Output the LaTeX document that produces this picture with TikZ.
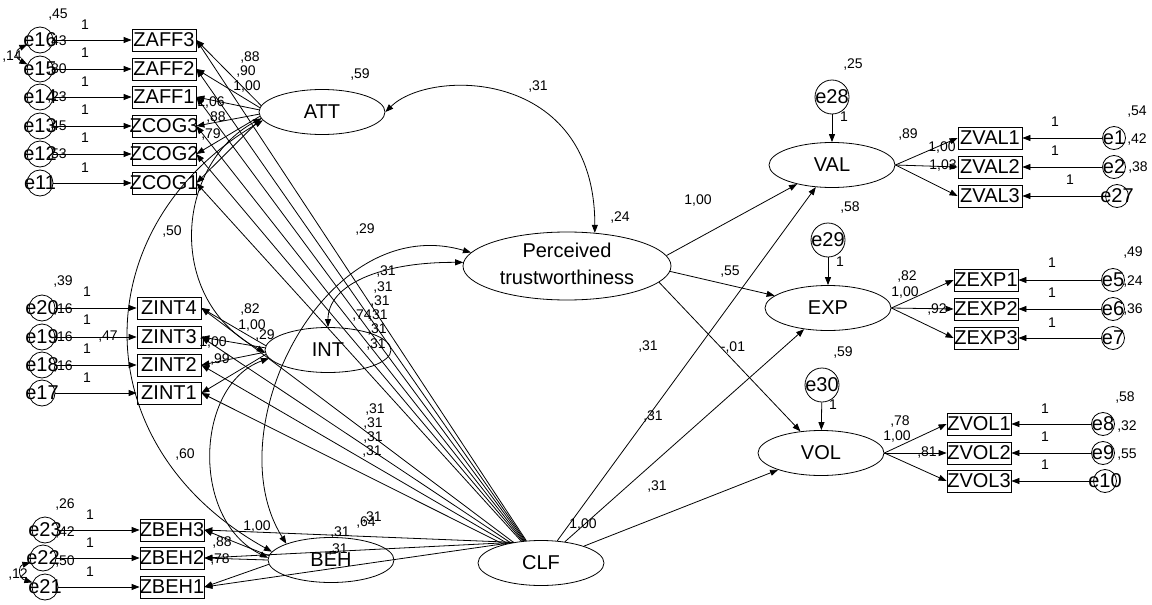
\documentclass[tikz,border=0pt]{standalone}
\usepackage{fontspec}
\setmainfont{Liberation Sans}
\usetikzlibrary{arrows.meta,shapes.geometric}
\newcommand\bigfnt{\fontsize{20}{24}\selectfont}
\newcommand\smfnt{\fontsize{14}{16}\selectfont}
\begin{document}
\begin{tikzpicture}[x=1pt,y=-1pt,line width=0.8pt,
  >={Triangle[length=8pt,width=6pt]},
  obs/.style={draw,rectangle,minimum width=64pt,minimum height=22pt,inner sep=0pt,font=\bigfnt},
  lat/.style={draw,ellipse,minimum width=126pt,minimum height=45pt,inner sep=0pt,font=\bigfnt},
  errL/.style={draw,circle,minimum size=26pt,inner sep=0pt,font=\bigfnt},
  errR/.style={errL,minimum size=23pt},
  errD/.style={errL,minimum size=34pt},
  lbl/.style={font=\smfnt,inner sep=0pt},
  reg/.style={->},
  cov/.style={<->}]
\useasboundingbox (0,0) rectangle (1152,605);

% observed indicators
\foreach \nm/\yy in {ZAFF3/40,ZAFF2/69,ZAFF1/97,ZCOG3/126,ZCOG2/154,ZCOG1/183}
  \node[obs] (\nm) at (164,\yy) {\makebox[0pt]{\nm}};
\foreach \nm/\yy in {ZINT4/308,ZINT3/337,ZINT2/365,ZINT1/393}
  \node[obs] (\nm) at (169,\yy) {\makebox[0pt]{\nm}};
\foreach \nm/\yy in {ZBEH3/530,ZBEH2/558,ZBEH1/587}
  \node[obs] (\nm) at (172,\yy) {\makebox[0pt]{\nm}};
\foreach \nm/\yy in {ZVAL1/138,ZVAL2/167,ZVAL3/196}
  \node[obs] (\nm) at (990,\yy) {\makebox[0pt]{\nm}};
\foreach \nm/\yy in {ZEXP1/280,ZEXP2/309,ZEXP3/338}
  \node[obs] (\nm) at (986,\yy) {\makebox[0pt]{\nm}};
\foreach \nm/\yy in {ZVOL1/424,ZVOL2/453,ZVOL3/481}
  \node[obs] (\nm) at (979,\yy) {\makebox[0pt]{\nm}};

% measurement errors, left side
\foreach \er/\nm/\xx/\yy in {e16/ZAFF3/40/40,e15/ZAFF2/40/69,e14/ZAFF1/40/97,
    e13/ZCOG3/40/126,e12/ZCOG2/40/154,e11/ZCOG1/40/183,
    e20/ZINT4/42/308,e19/ZINT3/42/337,e18/ZINT2/42/365,e17/ZINT1/42/393,
    e23/ZBEH3/45/530,e22/ZBEH2/43/558,e21/ZBEH1/45/587}
  {\node[errL] (\er) at (\xx,\yy) {\makebox[0pt]{\er}};
   \draw[reg] (\er) -- (\nm.west);}

% measurement errors, right side
\foreach \er/\nm/\xx/\yy in {e1/ZVAL1/1114/138,e2/ZVAL2/1114/167,e27/ZVAL3/1117/196,
    e5/ZEXP1/1113/280,e6/ZEXP2/1113/309,e7/ZEXP3/1113/338,
    e8/ZVOL1/1103/424,e9/ZVOL2/1103/453,e10/ZVOL3/1105/481}
  {\node[errR] (\er) at (\xx,\yy) {\makebox[0pt]{\er}};
   \draw[reg] (\er) -- (\nm.east);}

% latent variables
\node[lat] (ATT) at (322,112) {\makebox[0pt]{ATT}};
\node[lat] (INT) at (328,350) {\makebox[0pt]{INT}};
\node[lat] (BEH) at (331,560) {\makebox[0pt]{BEH}};
\node[lat] (CLF) at (541,563) {\makebox[0pt]{CLF}};
\node[lat] (VAL) at (832,165) {\makebox[0pt]{VAL}};
\node[lat] (EXP) at (828,308) {\makebox[0pt]{EXP}};
\node[lat] (VOL) at (821,453) {\makebox[0pt]{VOL}};
\node[lat,minimum width=208pt,minimum height=68pt] (PT) at (567,266) {};
\node[font=\fontsize{20}{27}\selectfont,align=center,inner sep=0pt] (PTtext) at (567,264)
  {Perceived\\trustworthiness};

% structural disturbances
\node[errD] (e28) at (832,97) {\makebox[0pt]{e28}};
\node[errD] (e29) at (828,240) {\makebox[0pt]{e29}};
\node[errD] (e30) at (822,385) {\makebox[0pt]{e30}};
\draw[reg] (e28) -- (VAL);
\draw[reg] (e29) -- (EXP);
\draw[reg] (e30) -- (VOL);

% factor loadings
\foreach \nm/\ang in {ZAFF3/174,ZAFF2/176,ZAFF1/178,ZCOG3/182,ZCOG2/184,ZCOG1/186}
  \draw[reg] (ATT.\ang) -- (\nm.east);
\foreach \nm/\ang in {ZINT4/176,ZINT3/178,ZINT2/182,ZINT1/184}
  \draw[reg] (INT.\ang) -- (\nm.east);
\foreach \nm/\ang in {ZBEH3/176,ZBEH2/180,ZBEH1/184}
  \draw[reg] (BEH.\ang) -- (\nm.east);
\foreach \nm in {ZVAL1,ZVAL2,ZVAL3} \draw[reg] (VAL.east) -- (\nm.west);
\foreach \nm in {ZEXP1,ZEXP2,ZEXP3} \draw[reg] (EXP.east) -- (\nm.west);
\foreach \nm in {ZVOL1,ZVOL2,ZVOL3} \draw[reg] (VOL.east) -- (\nm.west);

% common latent factor
\foreach \nm in {ZAFF3,ZAFF2,ZAFF1,ZCOG3,ZCOG2,ZCOG1,ZINT4,ZINT3,ZINT2,ZINT1}
  \draw[reg] (CLF) -- (\nm.east);
\foreach \nm in {ZBEH3,ZBEH2,ZBEH1}
  \draw[reg] (CLF.143) -- (\nm.east);
\draw[reg] (CLF) -- (VAL);
\draw[reg] (CLF) -- (EXP);
\draw[reg] (CLF) -- (VOL);

% structural paths
\draw[reg] (PT.6) -- (VAL);
\draw[reg] (PT.357) -- (EXP);
\draw[reg] (PT.350) -- (VOL);

% covariances
\draw[cov] (ATT.east) .. controls (430,68) and (595,68) .. (PT.50);
\draw[cov] (INT.north) .. controls (328,285) and (380,262) .. (PT.178);
\draw[cov] (BEH.160) .. controls (215,430) and (325,210) .. (PT.172);
\draw[cov] (ATT.186) .. controls (175,165) and (165,300) .. (INT.182);
\draw[cov] (ATT.188) .. controls (85,225) and (80,445) .. (BEH.172);
\draw[cov] (INT.188) .. controls (195,385) and (190,520) .. (BEH.178);
\draw[cov] (e16.200) .. controls (15,50) and (15,58) .. (e15.160);
\draw[cov] (e22.200) .. controls (18,566) and (18,578) .. (e21.160);

% estimates
\foreach \lx/\ly/\lt [count=\i] in {58/15/{,45},57/42/{,43},57/70/{,80},57/98/{,23},
    57/127/{,45},57/155/{,53},12/57/{,14},
    85/25/1,85/53/1,85/82/1,85/110/1,85/138/1,85/168/1,
    250/58/{,88},246/72/{,90},247/87/{1,00},211/103/{1,06},216/118/{,88},211/135/{,79},
    360/75/{,59},538/87/{,31},620/218/{,24},365/230/{,29},172/232/{,50},
    386/272/{,31},383/288/{,31},380/302/{,31},378/316/{,31},377/330/{,31},376/345/{,31},
    362/316/{,74}}
  \node[lbl] (la\i) at (\lx,\ly) {\lt};
\foreach \lx/\ly/\lt [count=\i] in {63/282/{,39},63/310/{,16},63/338/{,16},63/367/{,16},
    108/337/{,47},87/292/1,87/320/1,87/349/1,87/378/1,
    250/310/{,82},252/326/{1,00},265/336/{,29},213/343/{1,00},220/360/{,99},
    375/410/{,31},373/424/{,31},373/438/{,31},372/452/{,31},185/455/{,60}}
  \node[lbl] (lb\i) at (\lx,\ly) {\lt};
\foreach \lx/\ly/\lt [count=\i] in {65/505/{,26},65/533/{,42},65/562/{,50},18/575/{,12},
    90/515/1,90/543/1,90/572/1,
    257/527/{1,00},222/543/{,88},220/560/{,78},
    366/523/{,64},372/518/{,31},340/533/{,31},338/550/{,31},
    583/525/{1,00},648/347/{,31},653/417/{,31},657/487/{,31},
    698/201/{1,00},730/272/{,55},733/348/{-,01}}
  \node[lbl] (lc\i) at (\lx,\ly) {\lt};
\foreach \lx/\ly/\lt [count=\i] in {853/65/{,25},844/117/1,908/135/{,89},942/148/{1,00},
    943/166/{1,03},1055/122/1,1055/151/1,1070/180/1,
    1137/112/{,54},1137/140/{,42},1138/168/{,38},
    850/208/{,58},840/262/1,907/277/{,82},905/293/{1,00},937/310/{,92},
    1052/263/1,1052/293/1,1052/323/1,1133/253/{,49},1133/282/{,24},1133/310/{,36},
    843/353/{,59},833/405/1,900/422/{,78},897/437/{1,00},927/453/{,81},
    1045/409/1,1045/437/1,1045/465/1,1125/398/{,58},1127/427/{,32},1127/455/{,55}}
  \node[lbl] (ld\i) at (\lx,\ly) {\lt};
\end{tikzpicture}
\end{document}
